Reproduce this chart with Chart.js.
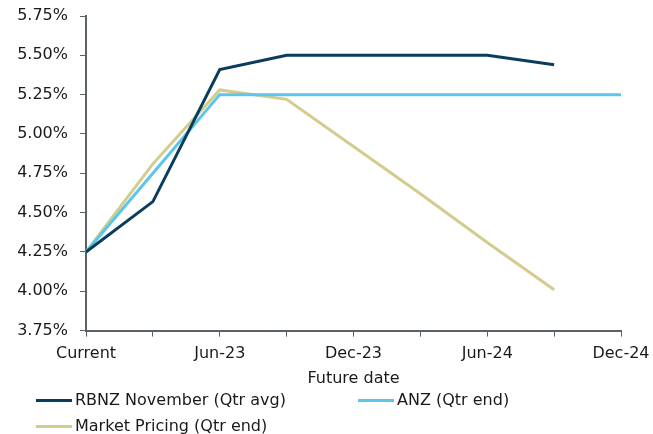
<!DOCTYPE html>
<html>
<head>
<meta charset="utf-8">
<script src="https://cdn.jsdelivr.net/npm/chart.js@4"></script>
<style>
  body { margin: 0; background: #fff; overflow: hidden; }
  #wrap { position: relative; width: 653px; height: 434px; }
  #myChart { display: block; }
  #legend { position: absolute; left: 0; top: 0; width: 653px; height: 434px; pointer-events: none;
            font-family: "DejaVu Sans", sans-serif; font-size: 16px; color: #1a1a1a; }
  .item { position: absolute; white-space: nowrap; line-height: 19px; }
  .item span.ln { display: inline-block; width: 36px; height: 3px; vertical-align: middle; margin-right: 3px; }
</style>
</head>
<body>
<div id="wrap">
  <canvas id="myChart" width="653" height="434"></canvas>
  <div id="legend"></div>
</div>
<script>
const categories = ['Current', 'Mar-23', 'Jun-23', 'Sep-23', 'Dec-23', 'Mar-24', 'Jun-24', 'Sep-24', 'Dec-24'];
const rbnz = [4.25, 4.57, 5.41, 5.50, 5.50, 5.50, 5.50, 5.44, null];
const anz = [4.25, 4.75, 5.25, 5.25, 5.25, 5.25, 5.25, 5.25, 5.25];
const market = [4.25, 4.81, 5.28, 5.22, 4.92, 4.62, 4.31, 4.01, null];
const seriesNames = ['RBNZ November (Qtr avg)', 'ANZ (Qtr end)', 'Market Pricing (Qtr end)'];
const colours = ['#0a3d5c', '#5bc6ec', '#d3cc8e'];

const ctx = document.getElementById('myChart');
const axisColor = '#5a6168';
const textColor = '#1a1a1a';
Chart.defaults.font.family = '"DejaVu Sans", sans-serif';
Chart.defaults.font.size = 16;
Chart.defaults.color = textColor;

new Chart(ctx, {
  type: 'line',
  data: {
    labels: categories,
    datasets: [
      { label: seriesNames[0], data: rbnz, borderColor: colours[0], borderWidth: 3 },
      { label: seriesNames[1], data: anz, borderColor: colours[1], borderWidth: 3 },
      { label: seriesNames[2], data: market, borderColor: colours[2], borderWidth: 3 }
    ]
  },
  options: {
    responsive: false,
    animation: false,
    elements: { point: { radius: 0 }, line: { tension: 0 } },
    layout: { padding: { left: 0, right: 32, top: 16, bottom: 46 } },
    plugins: { legend: { display: false }, tooltip: { enabled: false } },
    scales: {
      x: {
        offset: false,
        grid: { drawOnChartArea: false, drawTicks: true, tickLength: 6, color: axisColor, lineWidth: 1 },
        border: { color: axisColor, width: 2 },
        ticks: {
          autoSkip: false, maxRotation: 0, padding: 8,
          callback: function(v, i) { return i % 2 === 0 ? categories[i] : ''; }
        },
        title: { display: true, text: 'Future date', padding: { top: -3, bottom: 0 } },
        afterFit: function(scale) { scale.paddingLeft = 0; scale.paddingRight = 0; }
      },
      y: {
        min: 3.75, max: 5.75,
        grid: { drawOnChartArea: false, drawTicks: true, tickLength: 6, color: axisColor },
        border: { color: axisColor, width: 2 },
        ticks: { stepSize: 0.25, padding: 12, callback: v => v.toFixed(2) + '%' },
        afterFit: function(scale) { scale.width = 86; scale.paddingTop = 0; scale.paddingBottom = 0; }
      }
    }
  }
});

// legend laid out like the original
const legendPos = [[36, 390], [358, 390], [36, 416]];
const legend = document.getElementById('legend');
seriesNames.forEach(function(name, i) {
  const d = document.createElement('div');
  d.className = 'item';
  d.style.left = legendPos[i][0] + 'px';
  d.style.top = legendPos[i][1] + 'px';
  d.innerHTML = '<span class="ln" style="background:' + colours[i] + '"></span>' + name;
  legend.appendChild(d);
});
</script>
</body>
</html>
